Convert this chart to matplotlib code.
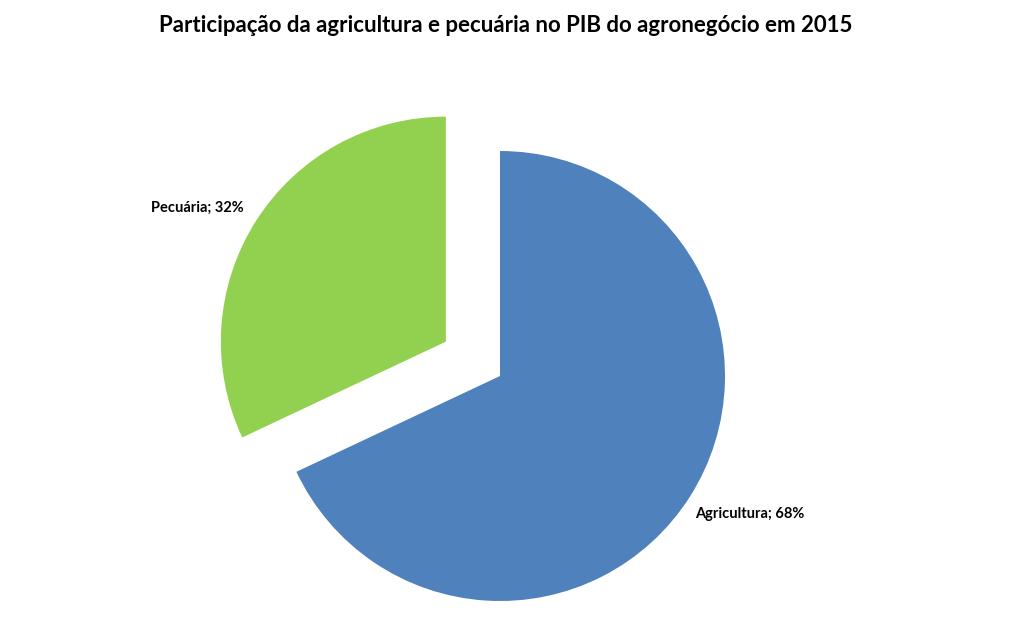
import matplotlib
matplotlib.use('Agg')
import matplotlib.pyplot as plt

# Data
categories = ['Agricultura', 'Pecuária']
shares = [68, 32]
colors = ['#4F81BD', '#92D050']
explode_frac = [0.0, 0.285]
title = 'Participação da agricultura e pecuária no PIB do agronegócio em 2015'

plt.rcParams['font.family'] = ['Lato', 'DejaVu Sans']

W, H = 1011, 630
fig = plt.figure(figsize=(W / 100, H / 100), dpi=100)
ax = fig.add_axes([0, 0, 1, 1])

cx, cy, r = 500, H - 376, 225
labels = [f'{c}; {v}%' for c, v in zip(categories, shares)]
# pie's explode is in data units, so scale by radius
wedges, texts = ax.pie(shares, labels=labels, colors=colors,
                       explode=[e * r for e in explode_frac],
                       startangle=90, counterclock=False, center=(cx, cy),
                       radius=r, labeldistance=1.27,
                       wedgeprops=dict(linewidth=0),
                       textprops=dict(fontsize=10.5, fontweight='bold', color='black'))

# Excel-style outside-end label positions
label_pos = [(750, H - 514), (197, H - 208)]
for t, p in zip(texts, label_pos):
    t.set_position(p)
    t.set_horizontalalignment('center')
    t.set_verticalalignment('center')

ax.set_xlim(0, W)
ax.set_ylim(0, H)
ax.set_aspect('equal')
ax.axis('off')

fig.text(506 / W, 1 - 26 / H, title, ha='center', va='center',
         fontsize=16, fontweight='bold')

plt.savefig('out.png', dpi=100)
